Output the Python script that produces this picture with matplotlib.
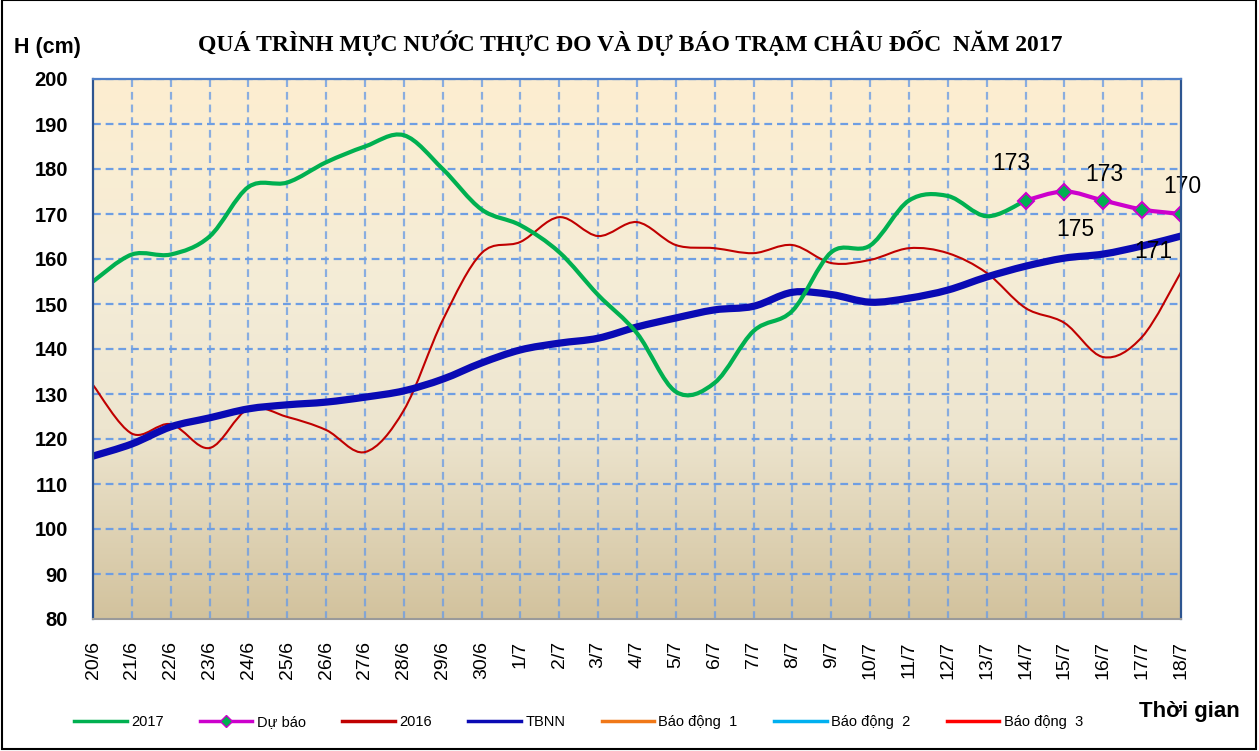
import numpy as np
import matplotlib
matplotlib.use('Agg')
import matplotlib.pyplot as plt
from matplotlib.path import Path
from matplotlib.patches import PathPatch, Rectangle
from matplotlib.lines import Line2D

# ---------------- data ----------------
dates = ['20/6', '21/6', '22/6', '23/6', '24/6', '25/6', '26/6', '27/6', '28/6', '29/6',
         '30/6', '1/7', '2/7', '3/7', '4/7', '5/7', '6/7', '7/7', '8/7', '9/7',
         '10/7', '11/7', '12/7', '13/7', '14/7', '15/7', '16/7', '17/7', '18/7']

h2017 = [155, 161, 161, 165, 176, 177, 181.5, 185, 187.5, 180,
         171, 167.5, 161.5, 152, 143.5, 130.5, 132.5, 144, 148.5, 161.5,
         163, 173, 174, 169.5, 173]

forecast_dates = ['14/7', '15/7', '16/7', '17/7', '18/7']
forecast = [173, 175, 173, 171, 170]

h2016 = [132, 121.2, 123.3, 118, 126.7, 124.9, 122, 117.1, 126.4, 146.4,
         161.3, 163.8, 169.3, 165.1, 168.2, 163.1, 162.4, 161.3, 163.1, 159.1,
         159.8, 162.4, 161.3, 156.9, 149.1, 145.8, 138.2, 142.7, 157.1]

tbnn = [116.2, 118.9, 122.7, 124.7, 126.7, 127.6, 128.2, 129.3, 130.7, 133.3,
        136.9, 139.8, 141.3, 142.4, 144.9, 146.9, 148.7, 149.5, 152.6, 152.1,
        150.4, 151.3, 153.1, 156.0, 158.4, 160.2, 161.1, 162.9, 165.1]

alarm_levels = [350, 400, 450]          # Báo động 1, 2, 3 (outside visible range)
alarm_names = ['Báo động  1', 'Báo động  2', 'Báo động  3']

y_ticks = list(range(80, 201, 10))

# ---------------- style ----------------
C2017 = '#00B050'
CFC = '#CC00CC'
C2016 = '#C00000'
CTB = '#0A0AB4'
CALARM = ['#F07818', '#00B0F0', '#FF0000']
GRID = '#6E9EE3'

SANS = ['Liberation Sans', 'DejaVu Sans']
SERIF = ['Liberation Serif', 'DejaVu Serif']


def smooth_path(x, y):
    pts = np.column_stack([np.asarray(x, float), np.asarray(y, float)])
    n = len(pts)
    verts = [pts[0]]
    codes = [Path.MOVETO]
    for i in range(n - 1):
        p0 = pts[i - 1] if i > 0 else pts[i]
        p1 = pts[i]
        p2 = pts[i + 1]
        p3 = pts[i + 2] if i + 2 < n else pts[i + 1]
        c1 = p1 + (p2 - p0) / 6.0
        c2 = p2 - (p3 - p1) / 6.0
        verts += [c1, c2, p2]
        codes += [Path.CURVE4] * 3
    return Path(verts, codes)


fig = plt.figure(figsize=(12.59, 7.51), dpi=100)
ax = fig.add_axes([93 / 1259, 1 - 619 / 751, (1181 - 93) / 1259, (619 - 79) / 751])

# gradient background
stops = np.array([0.0, 0.35, 0.6, 1.0])
cols = np.array([[210, 194, 157], [237, 229, 207], [244, 236, 215], [253, 238, 208]]) / 255.0
yy = np.linspace(0, 1, 300)
grad = np.stack([np.interp(yy, stops, cols[:, k]) for k in range(3)], axis=-1)[::-1][:, None, :]
ax.imshow(grad, extent=[0, 1, 0, 1], transform=ax.transAxes, aspect='auto', zorder=0,
          interpolation='bilinear')

x_all = np.arange(len(dates))
ax.set_xlim(0, len(dates) - 1)
ax.set_ylim(80, 200)

# grid
for yv in y_ticks[1:]:
    ax.axhline(yv, color=GRID, lw=1.6, ls=(0, (3.5, 2.2)), zorder=1)
for xv in x_all[1:-1]:
    ax.axvline(xv, color=GRID, lw=1.6, ls=(0, (3.5, 2.2)), zorder=1, alpha=0.8)

# alarm lines (out of view)
for lvl, c in zip(alarm_levels, CALARM):
    ax.axhline(lvl, color=c, lw=2)

# series
x2017 = [dates.index(d) for d in dates[:len(h2017)]]
xfc = [dates.index(d) for d in forecast_dates]
ax.add_patch(PathPatch(smooth_path(x_all, h2016), fill=False, edgecolor=C2016, lw=1.5, zorder=3))
ax.add_patch(PathPatch(smooth_path(x_all, tbnn), fill=False, edgecolor=CTB, lw=5.2, zorder=4,
                       capstyle='round'))
ax.add_patch(PathPatch(smooth_path(x2017, h2017), fill=False, edgecolor=C2017, lw=3, zorder=5))
ax.add_patch(PathPatch(smooth_path(xfc, forecast), fill=False, edgecolor=CFC, lw=3, zorder=6))
ax.plot(xfc, forecast, ls='none', marker='D', ms=8, mfc=C2017, mec=CFC, mew=1.5, zorder=7)

# data labels
offsets = [(-10, 27), (8, -27), (1, 19), (8, -30), (1, 20)]
for xv, yv, (dx, dy) in zip(xfc, forecast, offsets):
    ax.annotate(f'{yv:g}', (xv, yv), xytext=(dx, dy), textcoords='offset points',
                ha='center', va='center', fontsize=16.5, family=SANS, color='black', zorder=8)

# axes styling
ax.set_xticks(x_all)
ax.set_xticklabels(dates, rotation=90, fontsize=14, family=SANS)
ax.set_yticks(y_ticks)
ax.set_yticklabels([str(v) for v in y_ticks], fontsize=14.5, family=SANS, fontweight='bold')
ax.tick_params(axis='x', length=0, pad=16)
ax.tick_params(axis='y', length=0, pad=18)
for s in ['left', 'right']:
    ax.spines[s].set_color('#2E5590')
    ax.spines[s].set_linewidth(1.6)
ax.spines['bottom'].set_color('#9A9A9A')
ax.spines['bottom'].set_linewidth(1.5)
ax.spines['top'].set_color('#4F7FC8')
ax.spines['top'].set_linewidth(1.6)
for s in ax.spines.values():
    s.set_zorder(9)

# texts
fig.text(630 / 1259, 1 - 43 / 751, 'QUÁ TRÌNH MỰC NƯỚC THỰC ĐO VÀ DỰ BÁO TRẠM CHÂU ĐỐC  NĂM 2017',
         ha='center', va='center', fontsize=17, fontweight='bold', family=SERIF)
fig.text(14 / 1259, 1 - 47 / 751, 'H (cm)', ha='left', va='center', fontsize=15.5,
         fontweight='bold', family=SANS)
fig.text(1240 / 1259, 1 - 712 / 751, 'Thời gian', ha='right', va='center', fontsize=16,
         fontweight='bold', family=SANS)

# legend
handles = [
    Line2D([], [], color=C2017, lw=2.5),
    Line2D([], [], color=CFC, lw=2.5, marker='D', ms=6, mfc=C2017, mec=CFC),
    Line2D([], [], color=C2016, lw=2.5),
    Line2D([], [], color=CTB, lw=2.5),
] + [Line2D([], [], color=c, lw=2.5) for c in CALARM]
labels = ['2017', 'Dự báo', '2016', 'TBNN'] + alarm_names
fig.legend(handles, labels, loc='center left', bbox_to_anchor=(74 / 1259, 1 - 722 / 751),
           ncol=7, frameon=False, prop={'family': SANS, 'size': 10.5},
           handlelength=3.6, handletextpad=0.3, columnspacing=2.5, borderaxespad=0,
           borderpad=0)

fig.patches.append(Rectangle((0.0015, 0.0025), 0.996, 0.997, transform=fig.transFigure,
                             fill=False, edgecolor='black', lw=1.5))

fig.savefig('out.png', dpi=100)
